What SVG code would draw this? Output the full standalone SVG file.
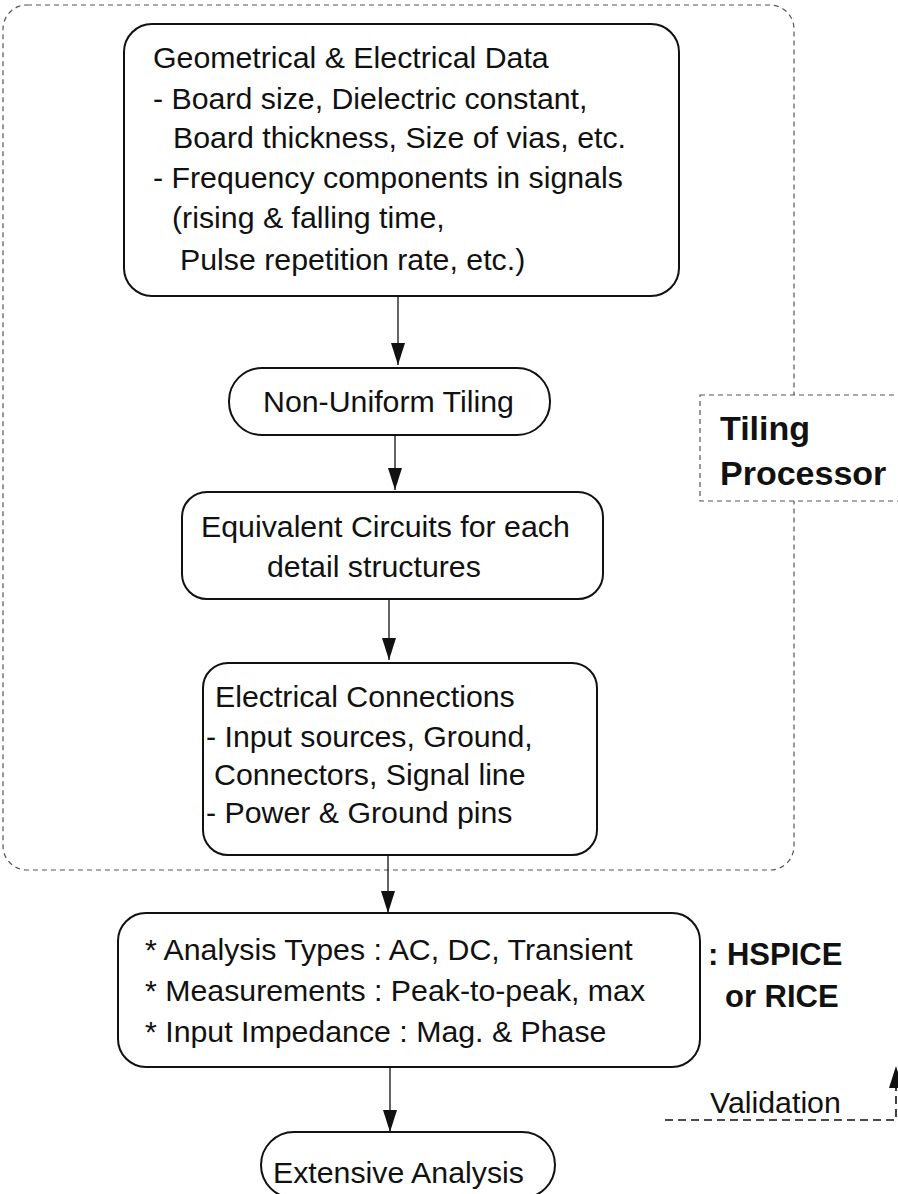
<svg xmlns="http://www.w3.org/2000/svg" width="898" height="1194" viewBox="0 0 898 1194">
<defs>
<style>
.box{fill:#fff;stroke:#111;stroke-width:2}
.t{font-family:"Liberation Sans",Arial,sans-serif;font-size:30.3px;fill:#111}
.b{font-family:"Liberation Sans",Arial,sans-serif;font-weight:bold;fill:#111}
.ln{stroke:#222;stroke-width:1.4;fill:none}
.dash{fill:none;stroke:#555;stroke-width:1.2;stroke-dasharray:5 4}
</style>
<marker id="ahd" viewBox="0 0 22 14" refX="22" refY="7" markerWidth="22" markerHeight="14" markerUnits="userSpaceOnUse" orient="auto">
<path d="M0,0 L22,7 L0,14 Z" fill="#111"/>
</marker>
</defs>
<rect width="898" height="1194" fill="#fff"/>

<g id="tiling-region">
<rect class="dash" x="3" y="5" width="791" height="865" rx="24"/>
</g>

<g id="tiling-label">
<rect x="700" y="395" width="210" height="106" fill="#fff" stroke="#555" stroke-width="1.2" stroke-dasharray="5 4"/>
<text class="b" x="720" y="440" font-size="34">Tiling</text>
<text class="b" x="720" y="485" font-size="34">Processor</text>
</g>

<g id="connectors">
<line class="ln" x1="398" y1="296" x2="398" y2="365" marker-end="url(#ahd)"/>
<line class="ln" x1="395" y1="435" x2="395" y2="490" marker-end="url(#ahd)"/>
<line class="ln" x1="389" y1="600" x2="389" y2="660" marker-end="url(#ahd)"/>
<line class="ln" x1="388" y1="855" x2="388" y2="913" marker-end="url(#ahd)"/>
<line class="ln" x1="390" y1="1067" x2="390" y2="1132" marker-end="url(#ahd)"/>
<path d="M665,1120 L896,1120 L896,1066" fill="none" stroke="#111" stroke-width="1.6" stroke-dasharray="8 5" marker-end="url(#ahd)"/>
<text class="t" x="710" y="1113">Validation</text>
</g>

<g id="n1">
<rect class="box" x="124" y="24" width="555" height="272" rx="28"/>
<text class="t" x="153" y="68">Geometrical &amp; Electrical Data</text>
<text class="t" x="153" y="109">- Board size, Dielectric constant,</text>
<text class="t" x="173" y="148">Board thickness, Size of vias, etc.</text>
<text class="t" x="153" y="188">- Frequency components in signals</text>
<text class="t" x="172" y="228">(rising &amp; falling time,</text>
<text class="t" x="180" y="270">Pulse repetition rate, etc.)</text>
</g>

<g id="n2">
<rect class="box" x="229" y="368" width="321" height="67" rx="33"/>
<text class="t" x="263" y="412">Non-Uniform Tiling</text>
</g>

<g id="n3">
<rect class="box" x="182" y="492" width="421" height="107" rx="25"/>
<text class="t" x="201" y="537">Equivalent Circuits for each</text>
<text class="t" x="267" y="577">detail structures</text>
</g>

<g id="n4">
<rect class="box" x="203" y="663" width="394" height="192" rx="25"/>
<text class="t" x="215" y="707">Electrical Connections</text>
<text class="t" x="206" y="747">- Input sources, Ground,</text>
<text class="t" x="214" y="785">Connectors, Signal line</text>
<text class="t" x="206" y="823">- Power &amp; Ground pins</text>
</g>

<g id="n5">
<rect class="box" x="118" y="913" width="582" height="154" rx="28"/>
<text class="t" x="145" y="960">* Analysis Types : AC, DC, Transient</text>
<text class="t" x="145" y="1001">* Measurements : Peak-to-peak, max</text>
<text class="t" x="145" y="1042">* Input Impedance : Mag. &amp; Phase</text>
</g>

<g id="n5-label">
<text class="b" x="708" y="965" font-size="31">: HSPICE</text>
<text class="b" x="725" y="1007" font-size="31">or RICE</text>
</g>

<g id="n6">
<rect class="box" x="261" y="1132" width="294" height="66" rx="33"/>
<text class="t" x="273" y="1183">Extensive Analysis</text>
</g>
</svg>
